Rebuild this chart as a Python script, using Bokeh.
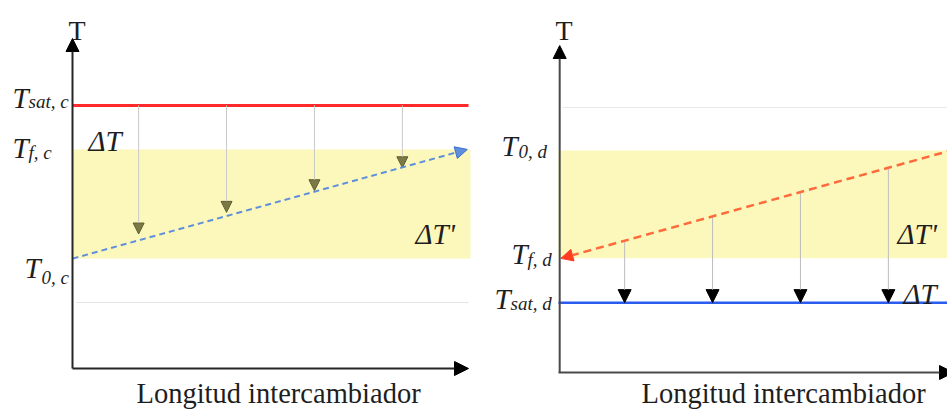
from bokeh.plotting import figure
from bokeh.models import Range1d, Arrow, NormalHead, ColumnDataSource
from bokeh.embed import file_html
from bokeh.resources import INLINE
from bokeh.core.properties import value

# ---------------- data (schematic: x = fraction of exchanger length, T arbitrary units)
x_arrows = [0.167, 0.389, 0.611, 0.833]

# left diagram: condensing side (c)
T_sat_c = 80.2
T_f_c = 66.8
T_0_c = 33.5
T_ref_c = 20.1
tips_c = [41.0, 47.6, 54.2, 61.2]

# right diagram: evaporating side (d)
T_ref_d = 80.8
T_0_d = 68.0
T_f_d = 34.8
T_sat_d = 21.3
starts_d = [40.2, 47.7, 55.2, 62.7]

band_c = [T_0_c, T_f_c]
band_d = [T_f_d, 67.7]

label_x = "Longitud intercambiador"
label_T = "T"
sub_c = ["sat, c", "f, c", "0, c"]
sub_d = ["0, d", "f, d", "sat, d"]
dT = "\u0394T"
dTp = "\u0394T'"

# ---------------- page geometry
W, H, M = 947, 410, 0
SX, SY = 396.0, 3.28
OXL, OYL = 72, 368      # left diagram origin (page px)
OXR, OYR = 558, 372     # right diagram origin (page px)

def lx(px): return (px - OXL) / SX
def ly(py): return (OYL - py) / SY
def rx(px): return (px - OXR) / SX
def ry(py): return (OYR - py) / SY

p = figure(width=W, height=H, output_backend="svg", toolbar_location=None,
           x_range=Range1d(lx(M), lx(M + W)), y_range=Range1d(ly(M + H), ly(M)),
           x_axis_location=None, y_axis_location=None, min_border=0)
p.extra_x_ranges = {"r": Range1d(rx(M), rx(M + W))}
p.extra_y_ranges = {"r": Range1d(ry(M + H), ry(M))}
p.grid.visible = False
p.outline_line_color = None
p.background_fill_color = "white"
p.border_fill_color = "white"

R = dict(x_range_name="r", y_range_name="r")
FONT = value("Liberation Serif")
TXT = "#1e1e1e"

# ---------------- left diagram
p.quad(left=[0], right=[1.005], bottom=[band_c[0]], top=[band_c[1]],
       fill_color="#fcf8bb", line_color=None)
p.segment(x0=[0.01], x1=[1.0], y0=[T_ref_c], y1=[T_ref_c], line_color="#e4e4e4", line_width=1)
p.segment(x0=[0], x1=[1.0], y0=[T_sat_c], y1=[T_sat_c], line_color="#ff2b2b", line_width=3)

src_c = ColumnDataSource(dict(x0=x_arrows, y0=[T_sat_c] * 4, x1=x_arrows, y1=tips_c))
p.add_layout(Arrow(source=src_c, x_start="x0", y_start="y0", x_end="x1", y_end="y1",
                   line_color="#c9c9c9", line_width=1,
                   end=NormalHead(size=11, fill_color="#7c7a44", line_color="#5f5e32", line_width=1)))
p.add_layout(Arrow(x_start=0, y_start=T_0_c, x_end=0.997, y_end=T_f_c,
                   line_color="#5f8fdc", line_width=2, line_dash="6 4",
                   end=NormalHead(size=12, fill_color="#5f8fdc", line_color="#3c6fd0", line_width=1)))

# axes (arrows)
p.add_layout(Arrow(x_start=0, y_start=0, x_end=0, y_end=ly(38), line_color="#262626", line_width=2,
                   end=NormalHead(size=13, fill_color="black", line_color="black", line_width=1)))
p.add_layout(Arrow(x_start=0, y_start=0, x_end=lx(468), y_end=0, line_color="#262626", line_width=2,
                   end=NormalHead(size=14, fill_color="black", line_color="black", line_width=1)))

# ---------------- right diagram
p.quad(left=[0], right=[1.0], bottom=[band_d[0]], top=[band_d[1]],
       fill_color="#fcf8bb", line_color=None, **R)
p.segment(x0=[0.01], x1=[1.0], y0=[T_ref_d], y1=[T_ref_d], line_color="#e8e8e8", line_width=1, **R)
p.segment(x0=[0], x1=[1.0], y0=[T_sat_d], y1=[T_sat_d], line_color="#2a5cf0", line_width=2.5, **R)

src_d = ColumnDataSource(dict(x0=x_arrows, y0=starts_d, x1=x_arrows, y1=[T_sat_d] * 4))
p.add_layout(Arrow(source=src_d, x_start="x0", y_start="y0", x_end="x1", y_end="y1",
                   line_color="#bdbdbd", line_width=1,
                   end=NormalHead(size=13, fill_color="black", line_color="black", line_width=1), **R))
p.add_layout(Arrow(x_start=1.0, y_start=T_0_d, x_end=0.006, y_end=T_f_d,
                   line_color="#ff6a3c", line_width=2.5, line_dash="8 5",
                   end=NormalHead(size=12, fill_color="#ff3b22", line_color="#ff3b22", line_width=1), **R))

p.add_layout(Arrow(x_start=0.003, y_start=0, x_end=0.003, y_end=ry(45), line_color="#4a4a4a", line_width=2,
                   end=NormalHead(size=13, fill_color="black", line_color="black", line_width=1), **R))
p.add_layout(Arrow(x_start=0, y_start=0, x_end=rx(953), y_end=0, line_color="#4a4a4a", line_width=2,
                   end=NormalHead(size=14, fill_color="black", line_color="black", line_width=1), **R))

# ---------------- texts
def text(xs, ys, t, size, style="italic", rng=None):
    kw = dict(R) if rng == "r" else {}
    p.text(x=xs, y=ys, text=t, text_font=FONT, text_font_size=size, text_font_style=style,
           text_color=TXT, text_baseline="alphabetic", text_align="left", **kw)

# left
text([lx(68)], [ly(30)], [label_T], "28px", "normal")
text([lx(12), lx(12), lx(24)], [ly(97), ly(147), ly(267)], [label_T] * 3, "29px")
text([lx(28), lx(28), lx(41)], [ly(101), ly(152), ly(277)], sub_c, "19px")
text([lx(88)], [ly(140)], [dT], "29px")
text([lx(415)], [ly(233)], [dTp], "29px")
text([lx(136)], [ly(393)], [label_x], "28.5px", "normal")

# right
text([rx(555)], [ry(30)], [label_T], "28px", "normal", "r")
text([rx(501), rx(511), rx(494)], [ry(145), ry(253), ry(298)], [label_T] * 3, "29px", rng="r")
text([rx(518), rx(527), rx(510)], [ry(151), ry(259), ry(303)], sub_d, "19px", rng="r")
text([rx(897)], [ry(233)], [dTp], "29px", rng="r")
text([rx(903)], [ry(293)], [dT], "29px", rng="r")
text([rx(641)], [ry(393)], [label_x], "28.5px", "normal", "r")

open("out.html", "w").write(file_html(p, INLINE))
